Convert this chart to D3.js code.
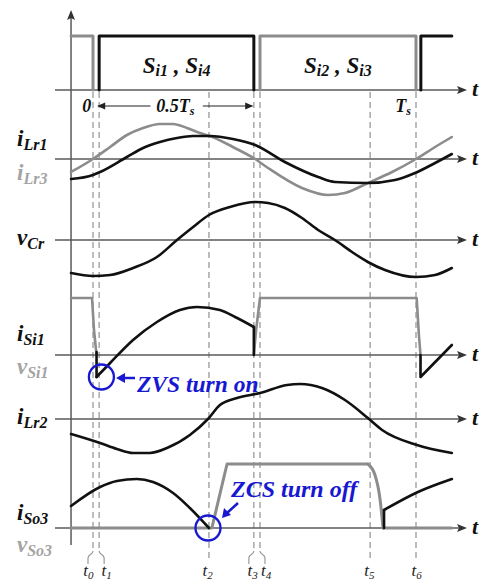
<!DOCTYPE html>
<html><head><meta charset="utf-8">
<script src="https://cdn.jsdelivr.net/npm/d3@7"></script>
<style>
body{margin:0;background:#fff}
svg{display:block}
</style>
</head><body>
<svg id="c" width="485" height="581"></svg>
<script>
// ---- time events (Ts = 100 time units) ----
const eventNames = ["t0","t1","t2","t3","t4","t5","t6"];
const eventTimes = [0, 1.9, 35.9, 49.8, 51.7, 85.8, 100];
const eventLabelX = [-3.0, 2.6, 33.9, 47.8, 52.0, 84.0, 98.6];

// ---- gate signals (0/1) ----
const gateGray = [[[-6.8,1],[0,1],[0,0]], [[51.7,0],[51.7,1],[100,1],[100,0]]];
const gateBlack = [[[1.9,0],[1.9,1],[49.8,1],[49.8,0]], [[101.5,0],[101.5,1],[111.1,1]]];

// ---- resonant currents iLr1 (black) and iLr3 (gray) ----
const iLr1 = [[-6.8,-2.0],[0,-1.6],[2.2,-1.3],[10.5,0.2],[15.5,1.1],[20.7,1.7],[26.0,2.1],[31.0,2.3],[36.2,2.3],[43.3,2.0],[50.2,1.4],[59.4,-0.3],[69.7,-1.8],[74.9,-2.3],[85.1,-2.4],[93.5,-2.1],[99.7,-1.4],[105.9,-0.4],[111.1,0.5]];
const iLr3 = [[-6.8,-1.3],[0,0],[5.3,1.2],[10.5,2.4],[15.5,3.1],[20.7,3.5],[24.8,3.5],[29.1,3.1],[33.1,2.6],[36.2,2.3],[43.3,1.2],[50.2,0],[54.2,-0.9],[64.7,-2.9],[72.8,-3.6],[78.0,-3.4],[85.1,-2.4],[92.6,-1.3],[100,0],[105.9,1.2],[111.1,2.2]];

// ---- resonant capacitor voltage ----
const vCr = [[-6.8,-3.3],[0,-3.6],[5.3,-3.5],[12.4,-2.8],[19.8,-1.7],[26.0,0],[31.0,1.3],[35.9,2.5],[42.4,3.3],[50.2,3.8],[54.2,3.7],[59.4,3.2],[64.7,2.2],[69.7,1.0],[74.9,0],[80.2,-1.2],[85.1,-2.2],[90.4,-3.0],[100,-3.7],[105.9,-3.5],[111.1,-2.8]];

// ---- switch Si1: current (black) & voltage (gray) ----
const vSi1a = [[-6.8,5.7],[-0.3,5.7],[0.3,2.5],[1.1,0]];
const vSi1b = [[49.8,0],[50.5,2.5],[51.7,5.7],[100.2,5.7],[100.9,2.0],[101.4,0]];
const iSi1dip = [[1.1,0.3],[1.1,-2.2]];
const iSi1 = [[1.1,-2.2],[5.3,-0.8],[12.4,1.5],[19.8,3.3],[26.9,4.5],[32.2,4.8],[39.3,4.5],[44.0,3.8],[49.8,2.8]];
const iSi1drop = [[49.8,2.8],[49.8,0]];
const iSi1c = [[101.4,0],[101.4,-2.2],[111.1,1.0]];

// ---- resonant current iLr2 ----
const iLr2 = [[-6.8,-1.5],[2.2,-2.4],[7.4,-3.0],[12.4,-3.4],[17.6,-3.4],[22.9,-2.9],[30.0,-1.6],[35.6,0],[39.3,1.4],[44.6,2.1],[51.7,2.6],[60.1,3.4],[64.1,3.5],[70.9,3.1],[78.0,1.9],[85.1,0.1],[89.5,-1.1],[100.3,-2.6],[111.1,-3.4]];

// ---- output diode So3: current (black) & voltage (gray) ----
const iSo3a = [[-6.8,2.2],[2.2,4.1],[7.4,4.7],[13.6,4.9],[18.6,4.6],[24.8,3.5],[30.0,2.0],[35.9,0]];
const iSo3b = [[90.1,0],[90.1,1.8]];
const iSo3c = [[90.1,1.8],[100.6,3.6],[111.1,4.9]];
const vSo3a = [[-6.8,0],[36.8,0],[41.5,6.4],[85.1,6.4]];
const vSo3b = [[85.1,6.4],[87.3,5.3],[88.9,2.8],[89.8,0]];
const vSo3c = [[89.8,0],[111.1,0]];

// ---- panel baselines ----
const panelNames = ["gate","iLr","vCr","iSi","iLr2","iSo"];
const panelBase = [90,159,240,355,419,528];

const FONT = "'Liberation Serif','Times New Roman',Tinos,'DejaVu Serif',serif";
const svg = d3.select("#c");
const x = d3.scaleLinear().domain([0,100]).range([93,416]);
const yGate = d3.scaleLinear().domain([0,1]).range([90,36]);
const Y = {};
panelNames.forEach((p,i)=>{ Y[p] = d3.scaleLinear().domain([0,1]).range([panelBase[i], panelBase[i]-10]); });
Y.gate = yGate;

const BLACK="#111", GRAY="#8c8c8c", AXIS="#5a5a5a", DASH="#9a9a9a", BLUE="#1818d2", LGRAY="#a4a4a4";

function T(sel){ return sel.attr("font-family",FONT).attr("font-weight","bold").attr("font-style","italic"); }

// dashed event lines
const gD = svg.append("g");
eventTimes.forEach((t,i)=>{
  const paired = (i===0||i===1||i===3||i===4);
  gD.append("line").attr("x1",x(t)).attr("x2",x(t)).attr("y1",92).attr("y2",paired?551:559)
    .attr("stroke",DASH).attr("stroke-width",1.3).attr("stroke-dasharray","6,4");
  if(paired){
    const dir = (i===0||i===3)?-1:1;
    const xx = x(t);
    gD.append("path").attr("d",`M${xx},551 C${xx},555 ${xx+dir*5},554 ${xx+dir*5},558 L${xx+dir*5},564`)
      .attr("fill","none").attr("stroke",DASH).attr("stroke-width",1.2);
  }
  const lab = T(svg.append("text")).attr("x",x(eventLabelX[i])).attr("y",576).attr("font-size",17).attr("fill","#222").attr("font-weight","normal");
  lab.append("tspan").text("t");
  lab.append("tspan").attr("dy",3).attr("font-size",11).text(eventNames[i].slice(1));
});

// axes
const gA = svg.append("g");
panelBase.forEach(b=>{
  gA.append("line").attr("x1",55).attr("x2",463).attr("y1",b).attr("y2",b).attr("stroke",AXIS).attr("stroke-width",1.5);
  gA.append("path").attr("d",`M467,${b} L457,${b-4} L459,${b} L457,${b+4} Z`).attr("fill","#333");
  T(gA.append("text")).attr("x",472).attr("y",b+6).attr("font-size",22).attr("fill","#111").text("t");
});
gA.append("line").attr("x1",x(-6.8)).attr("x2",x(-6.8)).attr("y1",545).attr("y2",16).attr("stroke",AXIS).attr("stroke-width",1.5);
gA.append("path").attr("d",`M${x(-6.8)},10 L${x(-6.8)-4},20 L${x(-6.8)},18 L${x(-6.8)+4},20 Z`).attr("fill","#333");

function draw(data, panel, color, curve, w){
  const line = d3.line().x(d=>x(d[0])).y(d=>Y[panel](d[1])).curve(curve||d3.curveLinear);
  svg.append("path").attr("d",line(data)).attr("fill","none").attr("stroke",color)
    .attr("stroke-width",w||2.6).attr("stroke-linejoin","round").attr("stroke-linecap","round");
}
const CR = d3.curveMonotoneX;

gateGray.forEach(s=>draw(s,"gate",GRAY,d3.curveLinear,3));
gateBlack.forEach(s=>draw(s,"gate",BLACK,d3.curveLinear,3));

draw(iLr3,"iLr",GRAY,CR);
draw(iLr1,"iLr",BLACK,CR);
draw(vCr,"vCr",BLACK,CR);

draw(vSi1a,"iSi",GRAY);
draw(vSi1b,"iSi",GRAY,d3.curveLinear);
draw(iSi1dip,"iSi",BLACK);
draw(iSi1,"iSi",BLACK,CR);
draw(iSi1drop,"iSi",BLACK);
draw(iSi1c,"iSi",BLACK);

draw(iLr2,"iLr2",BLACK,CR);

draw(vSo3a,"iSo",GRAY,d3.curveLinear,3);
draw(vSo3b,"iSo",GRAY,d3.curveMonotoneX,3);
draw(vSo3c,"iSo",GRAY,d3.curveLinear,3);
draw(iSo3a,"iSo",BLACK,CR);
draw(iSo3b,"iSo",BLACK);
draw(iSo3c,"iSo",BLACK,CR);

// signal labels
function label(xp, yp, main, sub, color, size, subSize){
  const t = T(svg.append("text")).attr("x",xp).attr("y",yp).attr("font-size",size).attr("fill",color);
  t.append("tspan").text(main);
  t.append("tspan").attr("dy",4).attr("font-size",subSize).text(sub);
  return t;
}
const sigLabels = [["i","Lr1",146,BLACK],["i","Lr3",180,LGRAY],["v","Cr",245,BLACK],["i","Si1",341,BLACK],["v","Si1",374,LGRAY],["i","Lr2",424,BLACK],["i","So3",520,BLACK],["v","So3",552,LGRAY]];
sigLabels.forEach(l=>label(17,l[2],l[0],l[1],l[3],23,16));

// gate labels
function sLabel(cx, yp, a, b){
  const t = T(svg.append("text")).attr("x",cx).attr("y",yp).attr("font-size",23).attr("fill","#111").attr("text-anchor","middle");
  t.append("tspan").text("S");
  t.append("tspan").attr("dy",3).attr("font-size",16).text(a);
  t.append("tspan").attr("dy",-3).text(" , S");
  t.append("tspan").attr("dy",3).attr("font-size",16).text(b);
}
sLabel(x(25.9),73,"i1","i4");
sLabel(x(75.8),73,"i2","i3");

// 0, 0.5Ts, Ts
T(svg.append("text")).attr("x",x(-1.9)).attr("y",112).attr("font-size",18).attr("text-anchor","middle").attr("fill","#111").text("0");
const hl = T(svg.append("text")).attr("x",x(25.5)).attr("y",112).attr("font-size",18).attr("text-anchor","middle").attr("fill","#111");
hl.append("tspan").text("0.5T"); hl.append("tspan").attr("dy",3).attr("font-size",12).text("s");
const tsl = T(svg.append("text")).attr("x",x(96.0)).attr("y",112).attr("font-size",18).attr("text-anchor","middle").attr("fill","#111");
tsl.append("tspan").text("T"); tsl.append("tspan").attr("dy",3).attr("font-size",12).text("s");
// 0.5Ts arrow
const ay = 106;
svg.append("line").attr("x1",x(1.6)).attr("x2",x(17.8)).attr("y1",ay).attr("y2",ay).attr("stroke","#222").attr("stroke-width",1.2);
svg.append("line").attr("x1",x(34.0)).attr("x2",x(49.3)).attr("y1",ay).attr("y2",ay).attr("stroke","#222").attr("stroke-width",1.2);
svg.append("path").attr("d",`M${x(1.3)},${ay} L${x(1.3)+8},${ay-3.5} L${x(1.3)+8},${ay+3.5} Z`).attr("fill","#222");
svg.append("path").attr("d",`M${x(49.6)},${ay} L${x(49.6)-8},${ay-3.5} L${x(49.6)-8},${ay+3.5} Z`).attr("fill","#222");

// annotations
const c1x = x(2.6), c1y = Y.iSi(-2.2);
svg.append("circle").attr("cx",c1x).attr("cy",c1y).attr("r",12.5).attr("fill","none").attr("stroke",BLUE).attr("stroke-width",2.3);
svg.append("line").attr("x1",135).attr("x2",122).attr("y1",c1y+1).attr("y2",c1y+1).attr("stroke",BLUE).attr("stroke-width",2.5);
svg.append("path").attr("d",`M116,${c1y+1} L125,${c1y-4} L125,${c1y+6} Z`).attr("fill",BLUE);
T(svg.append("text")).attr("x",137).attr("y",392).attr("font-size",23.5).attr("fill",BLUE).text("ZVS turn on");

const c2x = x(35.6), c2y = Y.iSo(0);
svg.append("circle").attr("cx",c2x).attr("cy",c2y).attr("r",12.5).attr("fill","none").attr("stroke",BLUE).attr("stroke-width",2.3);
svg.append("line").attr("x1",238).attr("x2",227).attr("y1",503).attr("y2",513).attr("stroke",BLUE).attr("stroke-width",2.5);
svg.append("path").attr("d","M222,518 L224,508 L231,515 Z").attr("fill",BLUE);
T(svg.append("text")).attr("x",231).attr("y",497).attr("font-size",24).attr("fill",BLUE).text("ZCS turn off");
</script>
</body></html>
